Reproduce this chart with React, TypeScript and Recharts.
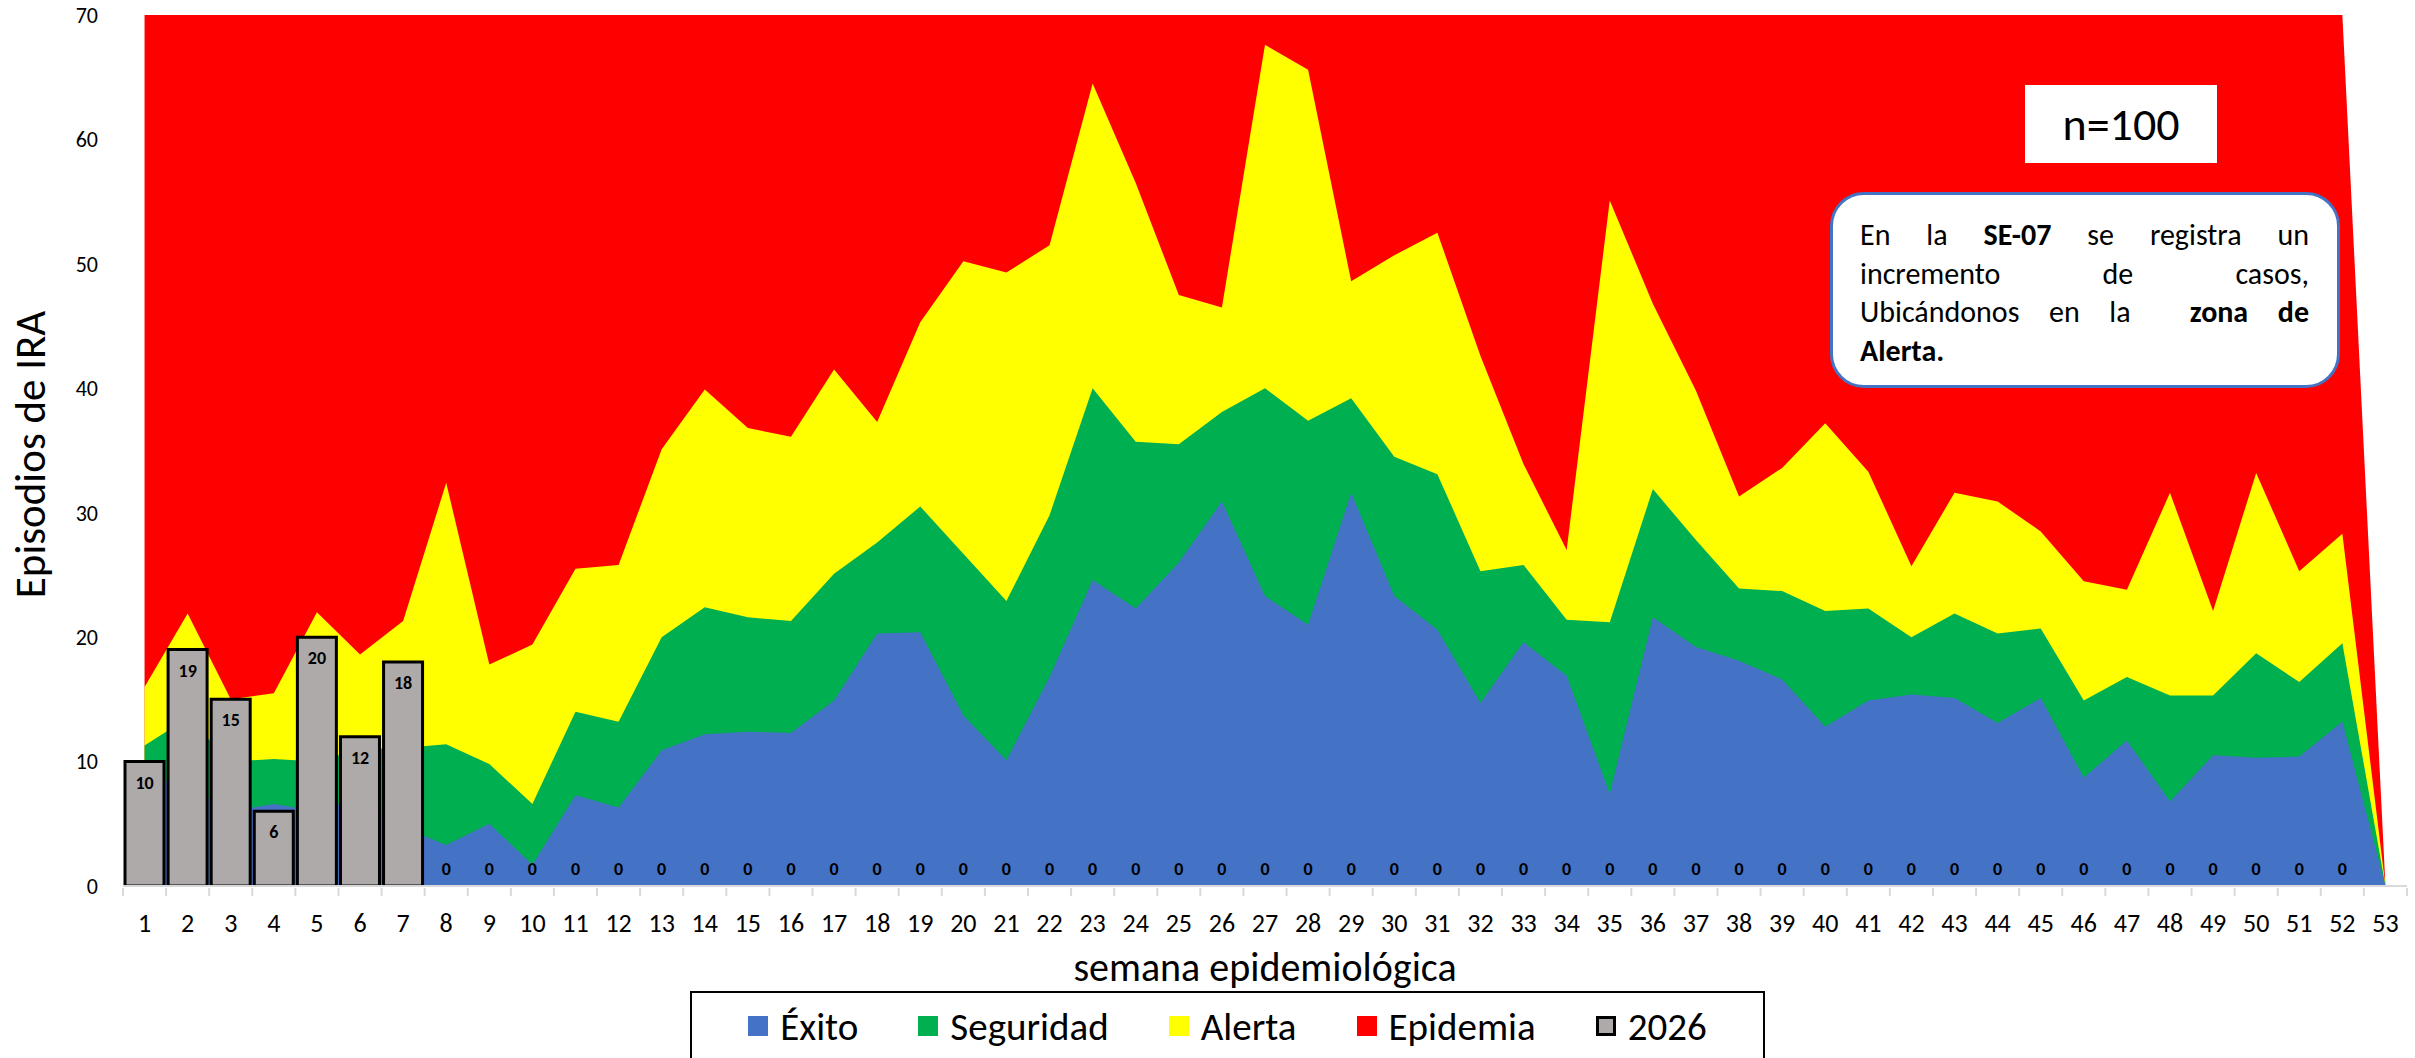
import { Area, Bar, ComposedChart, LabelList, Legend, Line, XAxis, YAxis } from "recharts";

// semanas epidemiológicas
const semanas = [
	"1", "2", "3", "4", "5", "6", "7", "8", "9", "10", "11", "12", "13", "14", "15", "16", "17", "18",
	"19", "20", "21", "22", "23", "24", "25", "26", "27", "28", "29", "30", "31", "32", "33", "34", "35",
	"36", "37", "38", "39", "40", "41", "42", "43", "44", "45", "46", "47", "48", "49", "50", "51", "52", "53",
];

// límites superiores de cada zona del canal endémico
const exito = [
	9, 8, 6, 6.6, 6, 7.1, 4.7, 3.3, 5.0, 1.7, 7.3, 6.3, 10.9, 12.2, 12.4, 12.3, 14.9, 20.3, 20.4, 13.7,
	10.1, 16.8, 24.6, 22.3, 26.0, 30.9, 23.3, 21.0, 31.6, 23.3, 20.6, 14.7, 19.6, 16.9, 7.4, 21.6, 19.2,
	18.1, 16.6, 12.8, 14.9, 15.4, 15.1, 13.1, 15.1, 8.7, 11.7, 6.8, 10.5, 10.3, 10.4, 13.2, 0,
];
const seguridad = [
	11.3, 13.5, 10.0, 10.2, 10.0, 11.0, 11.1, 11.4, 9.8, 6.6, 14.0, 13.2, 20.0, 22.4, 21.6, 21.3, 25.1,
	27.6, 30.5, 26.7, 22.9, 29.8, 40.0, 35.7, 35.5, 38.1, 40.0, 37.4, 39.2, 34.5, 33.1, 25.3, 25.8, 21.4,
	21.2, 31.9, 27.8, 23.9, 23.7, 22.1, 22.3, 20.0, 21.9, 20.3, 20.7, 14.9, 16.8, 15.3, 15.3, 18.7, 16.4,
	19.5, 0,
];
const alerta = [
	16.0, 21.9, 15.0, 15.5, 22.0, 18.6, 21.3, 32.4, 17.8, 19.4, 25.5, 25.8, 35.1, 39.9, 36.8, 36.1, 41.5,
	37.3, 45.3, 50.2, 49.3, 51.5, 64.5, 56.5, 47.5, 46.5, 67.6, 65.6, 48.6, 50.7, 52.5, 42.6, 33.9, 27.0,
	55.1, 46.8, 39.8, 31.3, 33.6, 37.2, 33.3, 25.7, 31.6, 30.9, 28.5, 24.5, 23.8, 31.6, 22.1, 33.2, 25.3,
	28.3, 0,
];
const epidemia = [
	70, 70, 70, 70, 70, 70, 70, 70, 70, 70, 70, 70, 70, 70, 70, 70, 70, 70, 70, 70, 70, 70, 70, 70, 70, 70,
	70, 70, 70, 70, 70, 70, 70, 70, 70, 70, 70, 70, 70, 70, 70, 70, 70, 70, 70, 70, 70, 70, 70, 70, 70, 70, 0,
];
// casos 2026
const casos2026 = [
	10, 19, 15, 6, 20, 12, 18, 0, 0, 0, 0, 0, 0, 0, 0, 0, 0, 0, 0, 0, 0, 0, 0, 0, 0, 0, 0, 0, 0, 0, 0,
	0, 0, 0, 0, 0, 0, 0, 0, 0, 0, 0, 0, 0, 0, 0, 0, 0, 0, 0, 0, 0, null,
];

const yTicks = [0, 10, 20, 30, 40, 50, 60, 70];

const data = semanas.map((semana, i) => ({
	semana,
	exito: exito[i],
	seguridad: seguridad[i],
	alerta: alerta[i],
	epidemia: epidemia[i],
	casos: casos2026[i],
}));

const FONT = "Calibri, Carlito, Lato, sans-serif";
const AZUL = "#4472C4";
const VERDE = "#00B050";
const AMARILLO = "#FFFF00";
const ROJO = "#FF0000";
const GRIS = "#AEAAAA";

const W = 2415;
const H = 1058;
const PLOT_LEFT = 123;
const PLOT_RIGHT = 8;
const BAND = (W - PLOT_LEFT - PLOT_RIGHT) / semanas.length;

const legendItems = [
	{ label: "Éxito", color: AZUL },
	{ label: "Seguridad", color: VERDE },
	{ label: "Alerta", color: AMARILLO },
	{ label: "Epidemia", color: ROJO },
	{ label: "2026", color: GRIS, border: true },
];

const SemanaTick = (props: any) => {
	const { x, y, payload, index } = props;
	const half = BAND / 2;
	return (
		<g>
			<line x1={x - half} y1={y + 2} x2={x - half} y2={y + 10} stroke="#D9D9D9" strokeWidth={2} />
			{index === semanas.length - 1 && (
				<line x1={x + half} y1={y + 2} x2={x + half} y2={y + 10} stroke="#D9D9D9" strokeWidth={2} />
			)}
			<text
				x={x}
				y={y + 37}
				textAnchor="middle"
				dominantBaseline="central"
				fontSize={26}
				fontFamily={FONT}
				fill="#000"
			>
				{payload.value}
			</text>
		</g>
	);
};

const YTitle = (props: any) => {
	const { viewBox } = props;
	const x = viewBox.x + 30;
	const y = viewBox.y + viewBox.height / 2 + 4;
	return (
		<text
			x={x}
			y={y}
			transform={`rotate(-90 ${x} ${y})`}
			textAnchor="middle"
			dominantBaseline="central"
			fontSize={43}
			fontFamily={FONT}
			fill="#000"
		>
			Episodios de IRA
		</text>
	);
};

const XTitle = (props: any) => {
	const { viewBox } = props;
	return (
		<text
			x={viewBox.x + viewBox.width / 2}
			y={viewBox.y + 81}
			textAnchor="middle"
			dominantBaseline="central"
			fontSize={40}
			fontFamily={FONT}
			fill="#000"
		>
			semana epidemiológica
		</text>
	);
};

const BarValue = (props: any) => {
	const { x, y, width, value } = props;
	if (value === null || value === undefined) return null;
	const ty = value === 0 ? y - 17 : y + 21;
	return (
		<text
			x={x + (width || 0) / 2}
			y={ty}
			textAnchor="middle"
			dominantBaseline="central"
			fontSize={18}
			fontWeight="bold"
			fontFamily={FONT}
			fill="#000"
		>
			{value}
		</text>
	);
};

const LegendBox = () => (
	<div
		style={{
			boxSizing: "border-box",
			width: 1075,
			height: 80,
			border: "2px solid #000",
			background: "#fff",
			display: "flex",
			justifyContent: "center",
			alignItems: "flex-start",
			paddingTop: 9,
			gap: 60,
			fontFamily: FONT,
			fontSize: 39,
			color: "#000",
		}}
	>
		{legendItems.map((it) => (
			<div key={it.label} style={{ display: "flex", alignItems: "center", gap: 12, height: 48 }}>
				<span
					style={{
						display: "inline-block",
						boxSizing: "border-box",
						width: 20,
						height: 20,
						background: it.color,
						border: it.border ? "3px solid #000" : "none",
					}}
				/>
				<span>{it.label}</span>
			</div>
		))}
	</div>
);

const justificada = { textAlign: "justify" as const, textAlignLast: "justify" as const, whiteSpace: "pre-wrap" as const };

export default function App() {
	return (
		<div
			style={{
				position: "absolute",
				left: 0,
				top: 0,
				width: W,
				height: H,
				overflow: "hidden",
				background: "#fff",
			}}
		>
			<ComposedChart
				width={W}
				height={H}
				data={data}
				margin={{ top: 15, right: PLOT_RIGHT, left: 0, bottom: 0 }}
				barCategoryGap={2}
			>
				<XAxis
					dataKey="semana"
					interval={0}
					height={92}
					tickSize={0}
					tickMargin={0}
					tickLine={false}
					axisLine={{ stroke: "#D9D9D9", strokeWidth: 2 }}
					tick={<SemanaTick />}
					label={<XTitle />}
				/>
				<YAxis
					width={PLOT_LEFT}
					domain={[0, 70]}
					ticks={yTicks}
					allowDataOverflow
					axisLine={false}
					tickLine={false}
					tickSize={0}
					tickMargin={25}
					tick={{ fontSize: 22, fill: "#000", fontFamily: FONT }}
					label={<YTitle />}
				/>
				<Legend
					verticalAlign="bottom"
					content={<LegendBox />}
					wrapperStyle={{ left: 690, top: 991, bottom: "auto", width: 1075, height: 80 }}
				/>
				<Area
					type="linear"
					dataKey="epidemia"
					name="Epidemia"
					fill={ROJO}
					fillOpacity={1}
					stroke="none"
					isAnimationActive={false}
				/>
				<Area
					type="linear"
					dataKey="alerta"
					name="Alerta"
					fill={AMARILLO}
					fillOpacity={1}
					stroke="none"
					isAnimationActive={false}
				/>
				<Area
					type="linear"
					dataKey="seguridad"
					name="Seguridad"
					fill={VERDE}
					fillOpacity={1}
					stroke="none"
					isAnimationActive={false}
				/>
				<Area
					type="linear"
					dataKey="exito"
					name="Éxito"
					fill={AZUL}
					fillOpacity={1}
					stroke="none"
					isAnimationActive={false}
				/>
				<Bar
					dataKey="casos"
					name="2026"
					fill={GRIS}
					stroke="#000"
					strokeWidth={3}
					isAnimationActive={false}
				/>
				{/* etiquetas de los casos 2026 (incluye los ceros) */}
				<Line
					dataKey="casos"
					stroke="none"
					dot={false}
					activeDot={false}
					legendType="none"
					isAnimationActive={false}
				>
					<LabelList dataKey="casos" content={<BarValue />} />
				</Line>
			</ComposedChart>

			<div
				style={{
					position: "absolute",
					left: 2025,
					top: 85,
					width: 192,
					height: 78,
					background: "#fff",
					display: "flex",
					alignItems: "center",
					justifyContent: "center",
					fontFamily: FONT,
					fontSize: 46,
					color: "#000",
				}}
			>
				n=100
			</div>

			<div
				style={{
					position: "absolute",
					left: 1830,
					top: 192,
					width: 510,
					height: 196,
					boxSizing: "border-box",
					background: "#fff",
					border: "3px solid #4472C4",
					borderRadius: 34,
					padding: "21px 28px 0 27px",
					fontFamily: FONT,
					fontSize: 30,
					lineHeight: "38.5px",
					color: "#000",
				}}
			>
				<div style={justificada}>
					En la <b>SE-07</b> se registra un
				</div>
				<div style={justificada}>incremento de casos,</div>
				<div style={justificada}>
					{"Ubicándonos en la  "}
					<b>zona de</b>
				</div>
				<div>
					<b>Alerta.</b>
				</div>
			</div>
		</div>
	);
}
